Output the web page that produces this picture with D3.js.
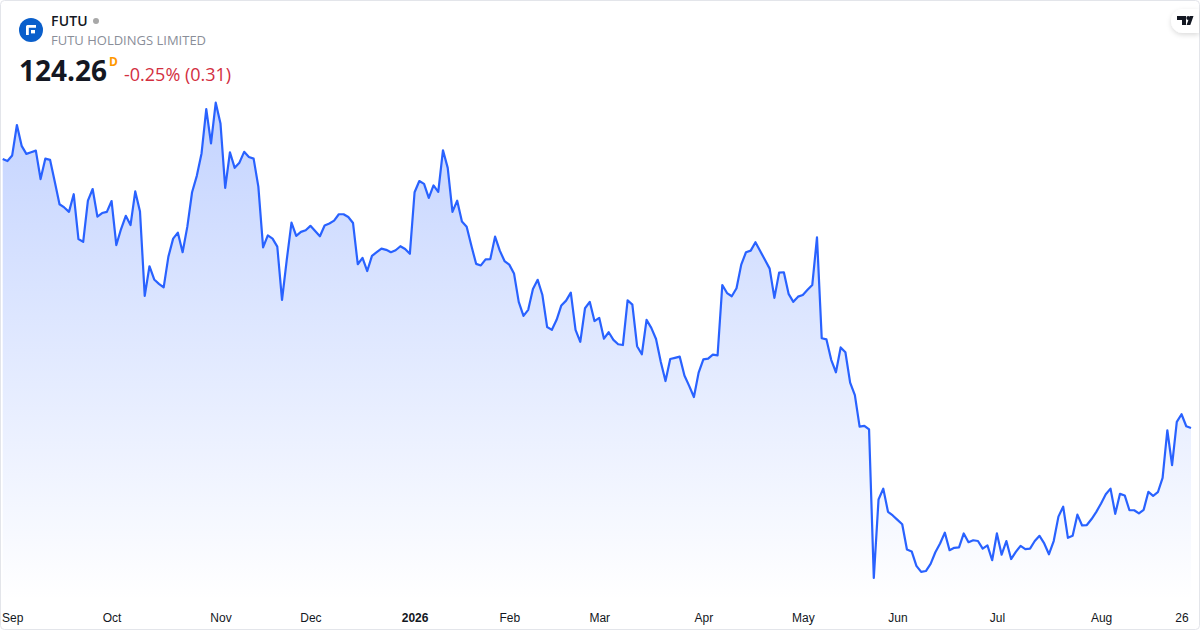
<!DOCTYPE html>
<html>
<head>
<meta charset="utf-8">
<script src="https://cdn.jsdelivr.net/npm/d3@7"></script>
<style>
	html, body { margin: 0; padding: 0; background: #fff; }
	svg { display: block; font-family: "Open Sans", sans-serif; }
	.axis path, .axis line { display: none; }
	.axis text { font-size: 12px; fill: #131722; }
</style>
</head>
<body>
<div id="chart"></div>
<script>

var symbol   = "FUTU";
var company  = "FUTU HOLDINGS LIMITED";
var lastText = "124.26";
var interval = "D";
var change   = "-0.25% (0.31)";

// daily close
var closes = [
	191.5,191.0,192.4,200.0,194.8,192.8,193.2,193.6,186.5,191.6,191.3,185.8,180.2,179.4,178.3,182.7,
	171.5,170.8,181.1,184.0,177.1,178.0,178.3,181.0,170.0,174.0,177.3,175.0,183.4,178.4,157.3,164.7,
	161.4,160.3,159.4,167.1,171.6,173.1,168.2,174.6,183.2,187.3,192.9,204.0,195.4,205.6,200.4,184.3,
	193.2,189.3,190.6,193.3,192.0,191.6,184.6,169.4,172.4,171.6,169.6,156.3,166.3,175.6,172.3,173.3,
	173.7,174.8,173.5,172.2,174.9,175.4,176.1,177.7,177.7,177.0,175.5,165.2,166.8,163.5,167.3,168.2,
	169.1,168.8,168.2,168.7,169.7,169.0,167.8,183.2,186.0,185.3,181.8,184.9,183.3,193.7,189.3,178.3,
	181.1,175.9,174.6,169.8,165.3,164.9,166.4,166.5,172.1,168.6,166.0,165.1,162.9,155.8,152.3,153.8,
	159.0,161.3,157.5,149.5,148.8,151.3,154.9,156.1,158.1,148.8,145.8,154.2,155.8,151.0,151.8,146.6,
	148.2,146.3,145.2,145.0,156.2,155.1,144.7,142.7,151.3,149.3,146.5,140.8,136.0,141.5,141.8,142.1,
	137.4,134.8,132.0,138.1,141.4,141.6,142.6,142.4,160.0,158.0,157.2,159.2,165.1,168.2,168.6,170.7,
	168.5,166.3,164.1,156.8,163.1,163.2,157.8,155.8,157.1,157.5,158.8,160.0,171.9,146.7,146.4,141.3,
	138.2,144.4,143.2,135.6,132.5,124.6,124.8,123.9,86.8,106.4,109.1,103.3,102.4,101.3,100.2,93.9,
	93.4,89.8,88.3,88.5,90.3,93.2,95.4,98.1,93.7,94.3,94.4,97.9,95.7,96.2,96.0,94.1,
	94.9,91.2,97.9,92.6,96.0,91.5,93.3,94.8,94.0,94.1,96.0,97.3,95.4,92.7,96.0,102.1,
	104.6,96.8,97.3,102.6,99.9,100.0,101.5,103.3,105.4,107.7,109.1,102.8,107.8,107.4,103.7,103.7,
	102.9,103.8,108.3,107.3,108.2,111.8,123.7,115.0,125.8,127.7,124.7,124.26
];

// bar index of each label on the time axis
var tickBars   = [2, 23, 46, 65, 87, 107, 126, 148, 169, 189, 210, 232, 249];
var tickLabels = ["Sep","Oct","Nov","Dec","2026","Feb","Mar","Apr","May","Jun","Jul","Aug","26"];
var boldLabels = ["2026"];

var width = 1200, height = 630;

var svg = d3.select("#chart").append("svg")
	.attr("width", width)
	.attr("height", height);

var x = d3.scaleLinear().domain([0, closes.length - 1]).range([2.7, 1191]);
var y = d3.scaleLinear().domain([124.26, 205.76]).range([428, 102]);

var defs = svg.append("defs");

var grad = defs.append("linearGradient")
	.attr("id", "areaFill")
	.attr("gradientUnits", "userSpaceOnUse")
	.attr("x1", 0).attr("y1", y(205.76))
	.attr("x2", 0).attr("y2", 600);
grad.append("stop").attr("offset", 0).attr("stop-color", "#2962ff").attr("stop-opacity", 0.28);
grad.append("stop").attr("offset", 1).attr("stop-color", "#2962ff").attr("stop-opacity", 0);

var shadow = defs.append("filter")
	.attr("id", "badgeShadow")
	.attr("x", "-30%").attr("y", "-30%")
	.attr("width", "160%").attr("height", "170%");
shadow.append("feDropShadow")
	.attr("dx", 0).attr("dy", 2).attr("stdDeviation", 2.5)
	.attr("flood-color", "#000").attr("flood-opacity", 0.14);

var area = d3.area()
	.x(function(d, i) { return x(i); })
	.y0(600)
	.y1(function(d) { return y(d); });

var line = d3.line()
	.x(function(d, i) { return x(i); })
	.y(function(d) { return y(d); });

svg.append("path")
	.datum(closes)
	.attr("d", area)
	.attr("fill", "url(#areaFill)");

svg.append("path")
	.datum(closes)
	.attr("d", line)
	.attr("fill", "none")
	.attr("stroke", "#2962ff")
	.attr("stroke-width", 2.2)
	.attr("stroke-linejoin", "round");

// time axis
var axis = d3.axisBottom(x)
	.tickValues(tickBars)
	.tickSize(0)
	.tickPadding(0)
	.tickFormat(function(d, i) { return tickLabels[i]; });

var axisG = svg.append("g")
	.attr("class", "axis")
	.attr("transform", "translate(0,613)")
	.call(axis);

axisG.selectAll("text")
	.style("font-weight", function(d, i) { return boldLabels.indexOf(tickLabels[i]) >= 0 ? 700 : 400; });

// header
svg.append("circle").attr("cx", 31).attr("cy", 30).attr("r", 12).attr("fill", "#0a5fcb");
svg.append("path")
	.attr("d", "M26 26.5a1.5 1.5 0 0 1 1.5-1.5H36v2.8H28.8V35H26Z")
	.attr("fill", "#fff");
svg.append("rect").attr("x", 31).attr("y", 30).attr("width", 4).attr("height", 3.4).attr("fill", "#fff");

svg.append("text").attr("x", 51).attr("y", 26)
	.attr("font-size", 14).attr("font-weight", 600).attr("letter-spacing", 0.2).attr("fill", "#131722").text(symbol);
svg.append("circle").attr("cx", 96).attr("cy", 21).attr("r", 3).attr("fill", "#a8a8a8");
svg.append("text").attr("x", 51).attr("y", 45)
	.attr("font-size", 13).attr("fill", "#8a8e99").text(company);
svg.append("text").attr("x", 19).attr("y", 81)
	.attr("font-size", 28).attr("font-weight", 700).attr("fill", "#131722").text(lastText);
svg.append("text").attr("x", 109).attr("y", 66)
	.attr("font-size", 12).attr("font-weight", 700).attr("fill", "#ff9800").text(interval);
svg.append("text").attr("x", 124).attr("y", 81)
	.attr("font-size", 18).attr("fill", "#d32f3f").text(change);

// frame
svg.append("rect").attr("x", 0.5).attr("y", 0.5).attr("width", width - 1).attr("height", height - 1).attr("rx", 4)
	.attr("fill", "none").attr("stroke", "#e3e5ea");

// tradingview badge
svg.append("path")
	.attr("d", "M1199 9H1183a12 12 0 0 0 0 24H1199Z")
	.attr("fill", "#fff")
	.attr("filter", "url(#badgeShadow)");
svg.append("path")
	.attr("d", "M1177 16H1186V25H1182V20H1177Z M1193.5 16H1189.8L1186.6 25H1190.3Z")
	.attr("fill", "#131722");
svg.append("circle").attr("cx", 1188.2).attr("cy", 18).attr("r", 1.9).attr("fill", "#131722");

</script>
</body>
</html>
